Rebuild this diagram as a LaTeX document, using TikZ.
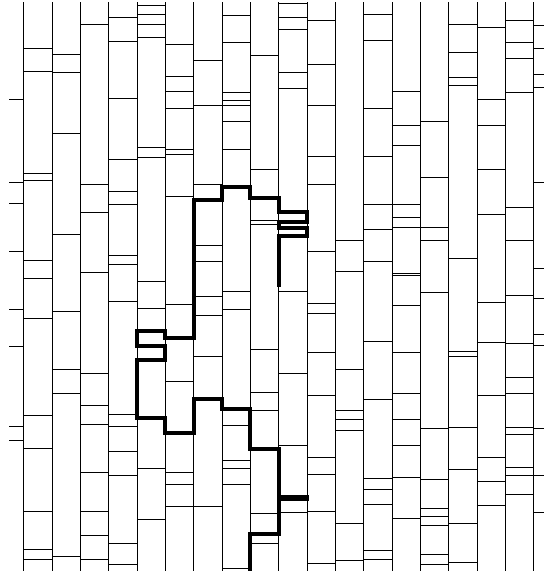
\documentclass[tikz,border=0pt]{standalone}
\begin{document}
\begin{tikzpicture}[x=1pt,y=-1pt,
  thin line/.style={line width=0.8pt,black},
  trace/.style={line width=4pt,black,line join=miter},
  stub/.style={line width=5.8pt,black}]
\useasboundingbox (0,0) rectangle (544,571);
\clip (0,0) rectangle (544,571);
% vertical lines
\foreach \k in {0,...,18} \draw[thin line] ({23.7+28.33*\k},2) -- ({23.7+28.33*\k},571);
% rungs: \g = index of left column; left and right stubs separately
\foreach \y in {99.3,182,203.3,251.7,309.7,346.3,426,440} \draw[thin line] (9,\y) -- (23.7,\y);
\foreach \y in {25.7,48.7,74.3,87,182,268.7,298.3,334,345,428.7,475.7,512.3} \draw[thin line] (533.7,\y) -- (544,\y);
\foreach \g/\ylist in {
 0/{48.7,71,173.3,180.3,260,278.3,318,415.7,448.7,511,549.3,559.3},
 1/{54,72.7,133.7,234,311.3,369.3,393.3,556},
 2/{24.3,184.7,212,272.3,373.3,405.7,424,472.7,511,535,559.3},
 3/{17,41.7,98.3,159.3,191,204.7,255.3,264.3,301.3,414.3,426,451.3,475.7,543.7,564.3},
 4/{5.7,14.7,24.3,37.3,147.7,157.7,281,308,468.3,519.3},
 5/{44,76.7,91,108,149.3,154.7,196,304,381.7,472.7,484,506.7},
 6/{60,105.3,184.7,245.7,261,296.7,315.3,356,506.7},
 7/{15.7,42.7,92.3,100.3,105.3,121,149.3,291,309.3,425.7,460,468.3,484,568.3},
 8/{55.7,169.3,220.3,224.7,349.3,392,410.3,513.7,543.3},
 9/{3.3,17,29,72.7,88.3,291,373.3,445.7,512.3},
 10/{20.3,64.3,105.3,156.3,184.7,251.3,303.7,313.7,352.3,395.7,457,474.3,511,563.3},
 11/{240,271,369.3,410.3,419,430,523.7,560.3},
 12/{14.7,40,108.3,156.3,204.7,229,261,341,399,478.3,489.7,504,550.7,559.3},
 13/{91,125.3,145.3,204.7,217.3,227.3,273.5,275,305.3,352.3,393.3,419,445.7,477,518},
 14/{121,177.7,227.3,240.3,292.7,428.7,479.7,508,516.7,525.3,554.7,564.3},
 15/{24.3,52.7,77,85.7,258.7,351,356,427.3,469.7,523.7,562},
 16/{27.3,99.3,125.3,169.3,214.3,302.7,342.3,395.7,457,481.3,505.3},
 17/{20.3,42.7,58.3,92.7,207,240,295.7,343.7,377.7,393.3,427.3,434.3,467,475.7,494}}
 {\foreach \y in \ylist \draw[thin line] ({23.7+28.33*\g},\y) -- ({23.7+28.33*(\g+1)},\y);}
% thick trace
\draw[trace] (250.3,576) -- (250.3,534.3) -- (278.7,534.3) -- (278.7,449.3) -- (250.3,449.3)
 -- (250.3,408.7) -- (222,408.7) -- (222,398.5) -- (193.7,398.5) -- (193.7,432.7)
 -- (165.4,432.7) -- (165.4,418) -- (137,418) -- (137,359.5) -- (165.4,359.5)
 -- (165.4,346) -- (137,346) -- (137,331.3) -- (165.4,331.3) -- (165.4,337.5)
 -- (193.7,337.5) -- (193.7,200) -- (222,200) -- (222,186.5) -- (250.3,186.5)
 -- (250.3,197.5) -- (278.7,197.5) -- (278.7,211.7) -- (307,211.7) -- (307,221.7)
 -- (278.7,221.7) -- (278.7,228) -- (307,228) -- (307,236) -- (278.7,236) -- (278.7,286.7);
\draw[stub] (278.7,498) -- (309,498);
\end{tikzpicture}
\end{document}
